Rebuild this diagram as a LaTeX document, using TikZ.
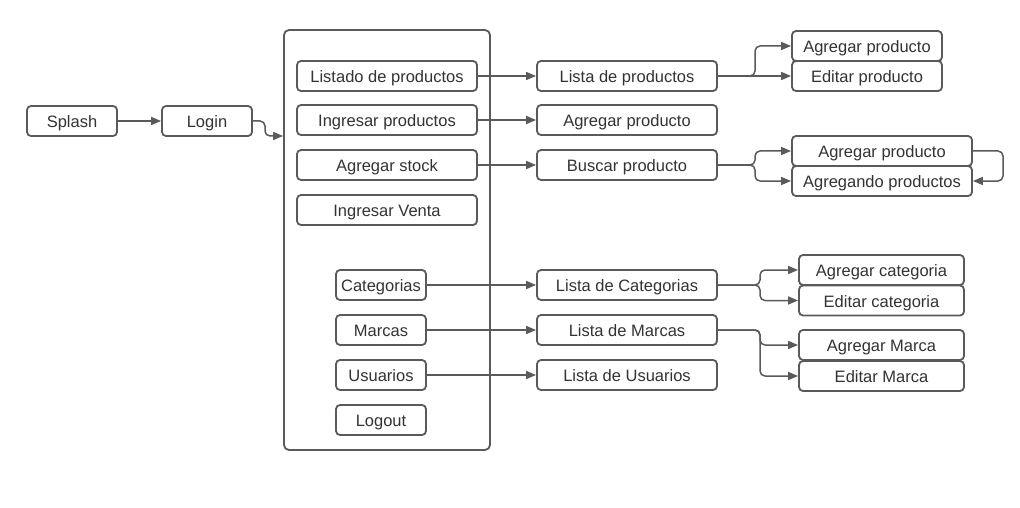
\documentclass[tikz,border=0pt]{standalone}
\usepackage{fontspec}
\setmainfont{Liberation Sans}
\usetikzlibrary{arrows.meta}
\begin{document}
\begin{tikzpicture}[x=1pt,y=-1pt,
  box/.style={draw=linegray,line width=1.8pt,rounded corners=4pt,minimum height=30pt,inner sep=0pt,font=\fontsize{16.5}{19}\selectfont,text=textgray,text height=13.5pt,text depth=0pt},
  conn/.style={draw=linegray,line width=1.5pt,rounded corners=5pt,-{Triangle[length=10pt,width=8pt]}},
]
\definecolor{linegray}{HTML}{5A5A5A}
\definecolor{textgray}{HTML}{333333}
\useasboundingbox (0,0) rectangle (1020,508);
\fill[white] (0,0) rectangle (1020,508);
% container
\node[draw=linegray,line width=1.8pt,rounded corners=5pt,minimum width=206pt,minimum height=420pt,inner sep=0pt] (menu) at (387,240) {};
\node[box,minimum width=90pt] (splash) at (72,121) {Splash};
\node[box,minimum width=90pt] (login) at (207,121) {Login};
\node[box,minimum width=180pt] (listado) at (387,76) {Listado de productos};
\node[box,minimum width=180pt] (ingresar) at (387,120) {Ingresar productos};
\node[box,minimum width=180pt] (stock) at (387,165) {Agregar stock};
\node[box,minimum width=180pt] (venta) at (387,210) {Ingresar Venta};
\node[box,minimum width=90pt] (cat) at (381,285) {Categorias};
\node[box,minimum width=90pt] (marcas) at (381,330) {Marcas};
\node[box,minimum width=90pt] (usuarios) at (381,375) {Usuarios};
\node[box,minimum width=90pt] (logout) at (381,420) {Logout};
\node[box,minimum width=180pt] (listaprod) at (627,76) {Lista de productos};
\node[box,minimum width=180pt] (agregarprod) at (627,120) {Agregar producto};
\node[box,minimum width=180pt] (buscar) at (627,165) {Buscar producto};
\node[box,minimum width=180pt] (listacat) at (627,285) {Lista de Categorias};
\node[box,minimum width=180pt] (listamarcas) at (627,330) {Lista de Marcas};
\node[box,minimum width=180pt] (listausu) at (627,375) {Lista de Usuarios};
\node[box,minimum width=150pt] (agregarA) at (867,46) {Agregar producto};
\node[box,minimum width=150pt] (editarprod) at (867,76) {Editar producto};
\node[box,minimum width=180pt] (agregarB) at (882,151) {Agregar producto};
\node[box,minimum width=180pt] (agregando) at (882,181) {Agregando productos};
\node[box,minimum width=165pt] (agregarcat) at (881.5,270) {Agregar categoria};
\node[box,minimum width=165pt] (editarcat) at (881.5,300.5) {Editar categoria};
\node[box,minimum width=165pt] (agregarmarca) at (881.5,345) {Agregar Marca};
\node[box,minimum width=165pt] (editarmarca) at (881.5,376) {Editar Marca};
% connectors
\draw[conn] (splash.east) -- (login.west);
\draw[conn] (login.east) -- (265,121) -- (265,136) -- (menu.west |- 0,136);
\draw[conn] (listado.east) -- (listaprod.west);
\draw[conn] (ingresar.east) -- (agregarprod.west);
\draw[conn] (stock.east) -- (buscar.west);
\draw[conn] (cat.east) -- (listacat.west);
\draw[conn] (marcas.east) -- (listamarcas.west);
\draw[conn] (usuarios.east) -- (listausu.west);
\draw[conn] (listaprod.east) -- (755,76) -- (755,46) -- (agregarA.west);
\draw[conn] (listaprod.east) -- (editarprod.west);
\draw[conn] (buscar.east) -- (755,165) -- (755,151) -- (agregarB.west);
\draw[conn] (buscar.east) -- (755,165) -- (755,181) -- (agregando.west);
\draw[conn] (agregarB.east) -- (1003,151) -- (1003,181) -- (agregando.east);
\draw[conn] (listacat.east) -- (760,285) -- (760,270) -- (agregarcat.west);
\draw[conn] (listacat.east) -- (760,285) -- (760,300.5) -- (editarcat.west);
\draw[conn] (listamarcas.east) -- (760,330) -- (760,345) -- (agregarmarca.west);
\draw[conn] (listamarcas.east) -- (760,330) -- (760,376) -- (editarmarca.west);
\end{tikzpicture}
\end{document}
